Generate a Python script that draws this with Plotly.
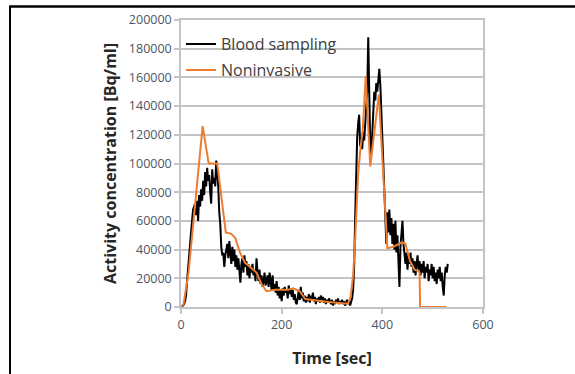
import plotly.graph_objects as go

# ---------------- data ----------------
# Blood sampling: activity (kBq/ml) sampled every 2 s starting at t = 0
blood_k = [
    # 0..24
    0.5, 0.3, 1, 2, 4, 8, 18, 28, 36, 45, 52, 60, 68,
    # 26..70
    70, 72, 64, 74, 60, 78, 70, 82, 74, 88, 78, 94, 84, 97, 88, 92, 80, 72, 96, 86, 90, 84, 102,
    # 72..90
    94, 84, 66, 58, 42, 36, 38, 28, 36, 40,
    # 92..130
    44, 34, 46, 38, 30, 42, 32, 40, 28, 36, 26, 34, 22, 17, 30, 34, 24, 36, 28, 32,
    # 132..170
    22, 30, 20, 28, 24, 30, 22, 26, 18, 34, 24, 18, 26, 16, 22, 14, 18, 24, 15, 20,
    # 172..230
    22, 14, 24, 18, 12, 22, 12, 16, 10, 18, 8, 14, 6, 12, 4, 13, 8, 14, 10, 12,
    6, 15, 9, 13, 7, 12, 5, 9, 3, 2,
    # 232..340
    8, 12, 5, 14, 6, 10, 4, 8, 3, 7, 4, 9, 3, 8, 5, 10, 4, 7, 2, 6,
    4, 7, 3, 8, 5, 7, 3, 6, 2, 5, 3, 6, 4, 2, 5, 1, 4, 2, 5, 3,
    6, 2, 4, 3, 5, 2, 4, 1, 3, 5, 2, 4, 1, 3, 6,
    # 342..410
    12, 28, 62, 98, 118, 128, 134, 112, 118, 110, 122, 116, 128, 140, 150, 188, 150, 112, 106, 120,
    140, 150, 144, 156, 150, 160, 166, 155, 135, 118, 100, 84, 68, 44, 66,
    # 412..440
    52, 68, 50, 62, 44, 58, 40, 60, 38, 50, 30, 14, 42, 52, 60,
    # 442..530
    44, 36, 30, 38, 26, 36, 30, 38, 28, 34, 24, 32, 22, 30, 36, 26, 32, 22, 30, 24,
    32, 20, 28, 24, 30, 18, 26, 22, 30, 20, 28, 18, 24, 16, 26, 20, 28, 18, 24, 14,
    8, 22, 28, 24, 30,
]
blood_step = 2
blood_t = [i * blood_step for i in range(len(blood_k))]
blood_v = [k * 1000 for k in blood_k]

# Noninvasive estimate
nonin_t = [0, 5, 15, 25, 43, 55, 72, 89, 100, 108, 117, 127, 140, 150, 160, 170, 187, 213,
           223, 236, 247, 266, 293, 326, 332, 337, 342, 346, 352, 357, 361, 367, 371, 376,
           393, 405, 410, 422, 439, 446, 455, 464, 472, 474, 475, 527]
nonin_k = [0, 2, 24, 61, 126, 100, 100, 52, 51, 48, 38, 31, 27, 24, 16, 11, 12, 12,
           13, 11, 5.5, 4.5, 3.5, 2.5, 2.5, 7, 22, 47, 93, 112, 123, 161, 135, 98,
           148, 75, 41, 42, 45, 44, 32, 26, 25, 24, 0, 0]
nonin_v = [k * 1000 for k in nonin_k]

x_ticks = [0, 200, 400, 600]
y_ticks = [0, 20000, 40000, 60000, 80000, 100000, 120000, 140000, 160000, 180000, 200000]

series_names = ["Blood sampling", "Noninvasive"]
x_title = "Time [sec]"
y_title = "Activity concentration [Bq/ml]"

# ---------------- figure ----------------
fig = go.Figure()
fig.add_trace(go.Scatter(x=blood_t, y=blood_v, mode="lines", name=series_names[0],
                         legendgroup="a",
                         line=dict(color="#000000", width=2)))
fig.add_trace(go.Scatter(x=nonin_t, y=nonin_v, mode="lines", name=series_names[1],
                         legendgroup="b",
                         line=dict(color="#ED7D31", width=2)))

grid = "#c4c4c4"
tick_font = dict(family="Open Sans", size=12.5, color="#4d5566")
title_font = dict(family="Open Sans", size=16, color="#262626")

fig.update_layout(
    width=575, height=374,
    margin=dict(l=181, r=92, t=20, b=67),
    paper_bgcolor="white", plot_bgcolor="white",
    showlegend=True,
    legend=dict(x=0.0, y=0.975, xanchor="left", yanchor="top",
                bgcolor="rgba(0,0,0,0)", borderwidth=0,
                font=dict(family="Open Sans", size=16, color="#404040"),
                itemwidth=30, tracegroupgap=2, traceorder="grouped"),
    xaxis=dict(range=[0, 600], tickvals=x_ticks, showgrid=False, automargin=False,
               showline=True, linecolor=grid, linewidth=1.5, mirror=True,
               ticks="outside", ticklen=5, tickcolor=grid, tickwidth=1.5,
               tickfont=tick_font, zeroline=False,
               title=dict(text="<b>" + x_title + "</b>", font=title_font, standoff=21)),
    yaxis=dict(range=[0, 200000], tickvals=y_ticks, showgrid=True, gridcolor=grid, gridwidth=1.5,
               automargin=False,
               showline=True, linecolor=grid, linewidth=1.5, mirror=True,
               ticks="outside", ticklen=5, tickcolor=grid, tickwidth=1.5,
               tickfont=tick_font, zeroline=False, tickformat="d",
               title=dict(text="<b>" + y_title + "</b>", font=title_font, standoff=8)),
    shapes=[
        dict(type="line", xref="paper", yref="paper",
             x0=(10 - 181) / 302, x1=(575 - 181) / 302, y0=(307 - 6.5) / 287, y1=(307 - 6.5) / 287,
             line=dict(color="#000000", width=2.5)),
        dict(type="line", xref="paper", yref="paper",
             x0=(10 - 181) / 302, x1=(10 - 181) / 302, y0=(307 - 5.5) / 287, y1=(307 - 374) / 287,
             line=dict(color="#000000", width=2)),
    ],
)

fig.write_html("out.html")
